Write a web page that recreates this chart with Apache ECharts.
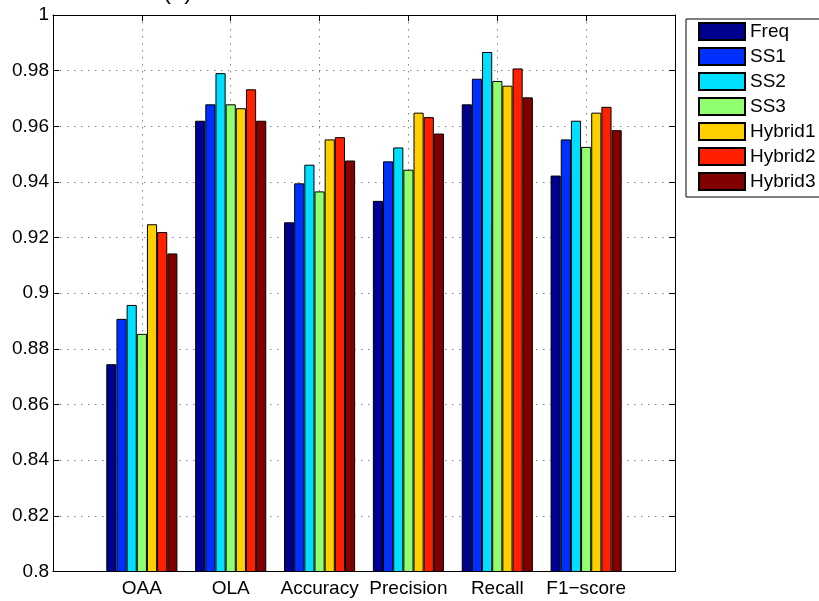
<!DOCTYPE html>
<html>
<head>
<meta charset="utf-8">
<script src="https://cdn.jsdelivr.net/npm/echarts@6/dist/echarts.min.js"></script>
<style>
  html, body { margin: 0; padding: 0; background: #fff; }
  #chart { width: 819px; height: 601px; }
</style>
</head>
<body>
<div id="chart"></div>
<script>
// Metric groups along the x axis
const categories = ['OAA', 'OLA', 'Accuracy', 'Precision', 'Recall', 'F1\u2212score'];

// Scores per method, one entry per metric group
const freq    = [0.8745, 0.9620, 0.9255, 0.9332, 0.9679, 0.9423];
const ss1     = [0.8908, 0.9679, 0.9395, 0.9474, 0.9771, 0.9553];
const ss2     = [0.8958, 0.9791, 0.9462, 0.9524, 0.9867, 0.9620];
const ss3     = [0.8854, 0.9679, 0.9366, 0.9444, 0.9763, 0.9526];
const hybrid1 = [0.9248, 0.9665, 0.9553, 0.9649, 0.9746, 0.9649];
const hybrid2 = [0.9220, 0.9733, 0.9561, 0.9633, 0.9808, 0.9670];
const hybrid3 = [0.9143, 0.9620, 0.9477, 0.9574, 0.9704, 0.9586];

const seriesNames = ['Freq', 'SS1', 'SS2', 'SS3', 'Hybrid1', 'Hybrid2', 'Hybrid3'];
const seriesValues = [freq, ss1, ss2, ss3, hybrid1, hybrid2, hybrid3];
const seriesColors = ['#00008f', '#0030ff', '#00dfff', '#8fff70', '#ffcf00', '#ff2000', '#800000'];

// y tick values
const yMin = 0.8, yMax = 1.0, yStep = 0.02;

// Padded category list: empty slots at both ends give half-open margins
const xData = [''].concat(categories, ['']);
const lastIdx = xData.length - 1;
const innerTick = (i) => i > 0 && i < lastIdx;

const FONT = 'Liberation Sans, Arial, Helvetica, sans-serif';
const gridDots = { color: '#808080', width: 1, type: [1.5, 5.5] };

const chart = echarts.init(document.getElementById('chart'), null, { renderer: 'canvas' });

chart.setOption({
  animation: false,
  backgroundColor: '#ffffff',
  textStyle: { fontFamily: FONT },
  graphic: [{
    type: 'text',
    left: 163,
    top: -20,
    style: { text: '(a)', fontSize: 24, fontFamily: FONT, fill: '#000' }
  }],
  legend: {
    orient: 'vertical',
    left: 686,
    top: 19,
    itemWidth: 46,
    itemHeight: 17,
    itemGap: 6,
    padding: [3, 40, 6, 12],
    borderColor: '#000',
    borderWidth: 1,
    backgroundColor: '#fff',
    icon: 'rect',
    textStyle: { fontSize: 19, lineHeight: 17, color: '#000', fontFamily: FONT },
    data: seriesNames
  },
  grid: { left: 53, right: 144, top: 15, bottom: 29.5, containLabel: false },
  xAxis: [{
    type: 'category',
    data: xData,
    boundaryGap: false,
    position: 'bottom',
    axisLine: { show: true, onZero: false, lineStyle: { color: '#000', width: 1 } },
    axisTick: { show: true, inside: true, length: 6, interval: innerTick, lineStyle: { color: '#000' } },
    axisLabel: { show: true, interval: 0, margin: 8, fontSize: 19, color: '#000', fontFamily: FONT },
    splitLine: { show: true, interval: innerTick, lineStyle: gridDots }
  }, {
    type: 'category',
    data: xData,
    boundaryGap: false,
    position: 'top',
    axisLine: { show: true, onZero: false, lineStyle: { color: '#000', width: 1 } },
    axisTick: { show: true, inside: true, length: 6, interval: innerTick, lineStyle: { color: '#000' } },
    axisLabel: { show: false },
    splitLine: { show: false }
  }],
  yAxis: [{
    type: 'value',
    min: yMin,
    max: yMax,
    interval: yStep,
    position: 'left',
    axisLine: { show: true, lineStyle: { color: '#000', width: 1 } },
    axisTick: { show: true, inside: true, length: 6, lineStyle: { color: '#000' } },
    axisLabel: {
      show: true, margin: 4, fontSize: 19, color: '#000', fontFamily: FONT,
      formatter: (v) => String(parseFloat(v.toFixed(2)))
    },
    splitLine: { show: true, lineStyle: gridDots }
  }, {
    type: 'value',
    min: yMin,
    max: yMax,
    interval: yStep,
    position: 'right',
    axisLine: { show: true, lineStyle: { color: '#000', width: 1 } },
    axisTick: { show: true, inside: true, length: 6, lineStyle: { color: '#000' } },
    axisLabel: { show: false },
    splitLine: { show: false }
  }],
  series: seriesNames.map((name, k) => ({
    name: name,
    type: 'bar',
    xAxisIndex: 0,
    yAxisIndex: 0,
    barWidth: 10.16,
    barGap: '0%',
    clip: true,
    data: [null].concat(seriesValues[k], [null]),
    itemStyle: { color: seriesColors[k], borderColor: '#000', borderWidth: 1 },
    emphasis: { disabled: true }
  }))
});
</script>
</body>
</html>
